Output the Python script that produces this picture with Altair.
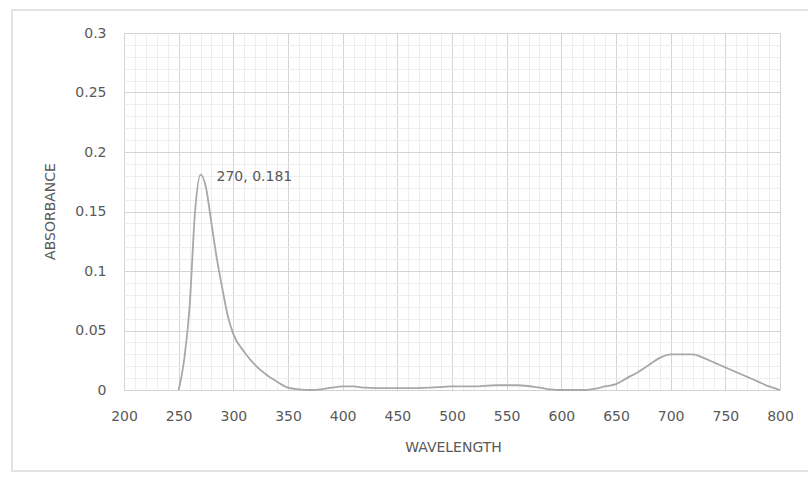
import altair as alt
import pandas as pd

wavelength = [250, 255, 260, 265, 270, 275, 280, 285, 290, 295, 300, 310, 320, 330, 340,
              350, 360, 370, 380, 390, 400, 410, 420, 440, 460, 480, 500, 520, 540, 560,
              580, 590, 600, 620, 630, 640, 650, 660, 670, 680, 690, 700, 710, 720, 730,
              740, 750, 760, 770, 780, 790, 800]
absorbance = [0.0, 0.025, 0.07, 0.15, 0.181, 0.17, 0.14, 0.11, 0.085, 0.062, 0.047, 0.032,
              0.021, 0.013, 0.007, 0.002, 0.0005, 0.0, 0.0005, 0.002, 0.003, 0.003, 0.002,
              0.0015, 0.0015, 0.002, 0.003, 0.003, 0.004, 0.004, 0.002, 0.0005, 0.0, 0.0,
              0.001, 0.003, 0.005, 0.01, 0.015, 0.021, 0.027, 0.03, 0.03, 0.03, 0.027,
              0.023, 0.019, 0.015, 0.011, 0.007, 0.003, 0.0]

peak_x = [270]
peak_y = [0.181]
peak_label = ["270, 0.181"]

x_ticks = list(range(200, 801, 10))
y_ticks = [round(i * 0.01, 2) for i in range(0, 31)]

df = pd.DataFrame({"wavelength": wavelength, "absorbance": absorbance})
peak = pd.DataFrame({"wavelength": peak_x, "absorbance": peak_y, "label": peak_label})

FONT = "DejaVu Sans"
TXT = "#595959"
FS = 14

x_enc = alt.X(
    "wavelength:Q",
    scale=alt.Scale(domain=[200, 800], nice=False, zero=False),
    axis=alt.Axis(
        values=x_ticks,
        title="WAVELENGTH",
        labelExpr="datum.value % 50 === 0 ? datum.label : ''",
        labelOverlap=False,
        labelFlush=False,
        labelBound=False,
        gridColor={"condition": {"test": "datum.value % 50 === 0", "value": "#d4d4d4"}, "value": "#eeeeee"},
        grid=True,
        domain=False,
        ticks=False,
        labelPadding=19,
        titleX=329,
        titleY=57,
        titleBaseline="middle",
    ),
)
y_enc = alt.Y(
    "absorbance:Q",
    scale=alt.Scale(domain=[0, 0.3], nice=False),
    axis=alt.Axis(
        values=y_ticks,
        title="ABSORBANCE",
        labelExpr="round(datum.value * 100) % 5 === 0 ? format(datum.value, '~g') : ''",
        labelOverlap=False,
        labelFlush=False,
        gridColor={"condition": {"test": "round(datum.value * 100) % 5 === 0", "value": "#d4d4d4"}, "value": "#eeeeee"},
        grid=True,
        domain=False,
        ticks=False,
        labelPadding=18,
        titleX=-74,
        titleY=178,
        titleBaseline="middle",
    ),
)

frame = alt.Chart(df).mark_rect(fill=None, stroke="#e2e2e2", strokeWidth=1.5).encode(
    x=alt.value(-112), x2=alt.value(690), y=alt.value(-23), y2=alt.value(438)
)
line = alt.Chart(df).mark_line(color="#a8a8a8", strokeWidth=1.8, interpolate="monotone").encode(
    x=x_enc, y=y_enc
)
text = alt.Chart(peak).mark_text(
    align="left", baseline="middle", dx=16, dy=2, font=FONT, fontSize=FS, color=TXT
).encode(x=x_enc, y=y_enc, text="label:N")

chart = (
    alt.layer(line, text, frame)
    .properties(
        width=656,
        height=357,
        autosize=alt.AutoSizeParams(type="none"),
        padding={"left": 124, "top": 33, "right": 28, "bottom": 92},
        background="white",
    )
    .configure_view(stroke=None)
    .configure_axis(
        labelFont=FONT, labelFontSize=FS, labelColor=TXT,
        titleFont=FONT, titleFontSize=FS, titleColor=TXT, titleFontWeight="normal",
    )
)

chart.save("out.html", embed_options={"renderer": "svg", "actions": False})
